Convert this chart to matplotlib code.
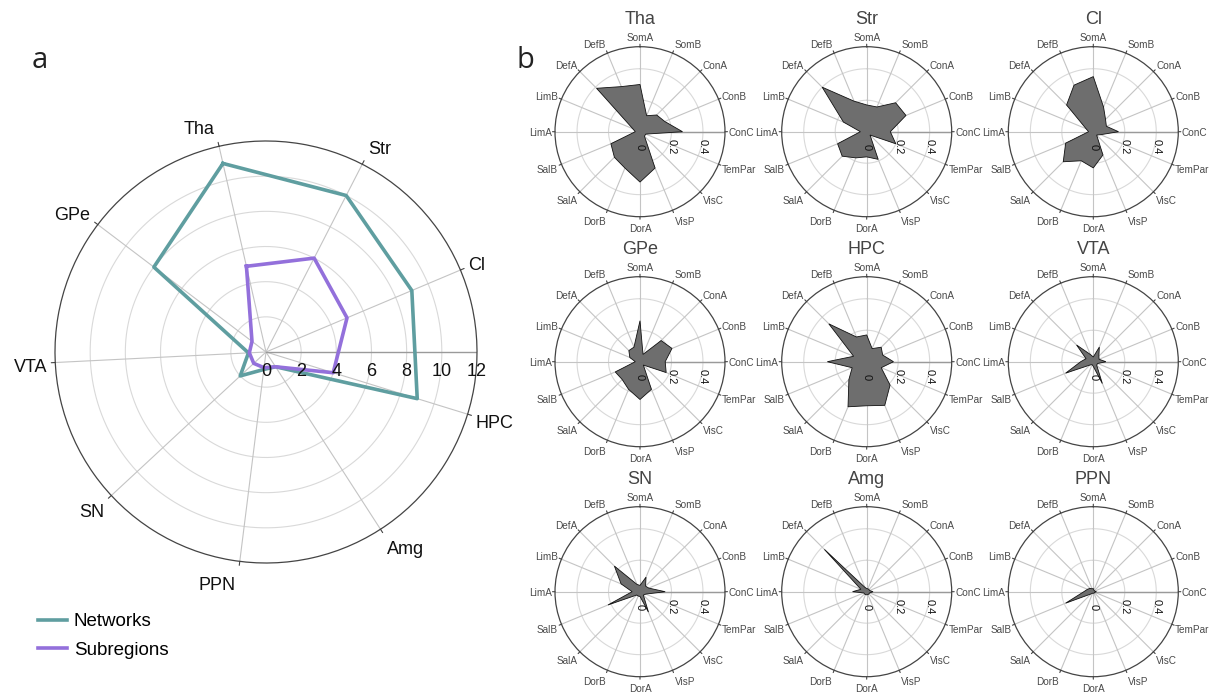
import numpy as np
import matplotlib
matplotlib.use("Agg")
import matplotlib.pyplot as plt
from matplotlib.transforms import offset_copy

plt.rcParams['font.family'] = ['Liberation Sans', 'DejaVu Sans']

# ---------------- data ----------------
regions = ["Tha", "Str", "Cl", "HPC", "Amg", "PPN", "SN", "VTA", "GPe"]
networks_vals = [11, 10, 9, 9, 1, 1, 2, 1, 8]
subregions_vals = [5, 6, 5, 4, 1, 0.9, 0.95, 0.95, 1.0]
big_ticks = [0, 2, 4, 6, 8, 10, 12]

nets = ["SomA", "SomB", "ConA", "ConB", "ConC", "TemPar", "VisC", "VisP",
        "DorA", "DorB", "SalA", "SalB", "LimA", "LimB", "DefA", "DefB"]
small_ticks = [0, 0.2, 0.4]
small_titles = ["Tha", "Str", "Cl", "GPe", "HPC", "VTA", "SN", "Amg", "PPN"]

tha_vals = [0.30, 0.11, 0.15, 0.17, 0.27, 0.04, 0.04, 0.25, 0.32, 0.25, 0.23, 0.20, 0.03, 0.05, 0.39, 0.31]
str_vals = [0.17, 0.17, 0.26, 0.27, 0.15, 0.20, 0.03, 0.19, 0.16, 0.18, 0.22, 0.20, 0.04, 0.16, 0.40, 0.21]
cl_vals = [0.35, 0.17, 0.11, 0.09, 0.16, 0.05, 0.03, 0.16, 0.23, 0.20, 0.27, 0.19, 0.03, 0.05, 0.24, 0.32]
gpe_vals = [0.26, 0.05, 0.19, 0.22, 0.16, 0.18, 0.03, 0.19, 0.24, 0.19, 0.16, 0.17, 0.03, 0.07, 0.10, 0.10]
hpc_vals = [0.17, 0.09, 0.13, 0.11, 0.17, 0.10, 0.21, 0.30, 0.28, 0.31, 0.16, 0.10, 0.25, 0.09, 0.34, 0.17]
vta_vals = [0.03, 0.10, 0.05, 0.04, 0.08, 0.03, 0.03, 0.15, 0.03, 0.02, 0.03, 0.19, 0.08, 0.05, 0.15, 0.05]
sn_vals = [0.04, 0.10, 0.05, 0.06, 0.16, 0.04, 0.03, 0.14, 0.03, 0.03, 0.03, 0.22, 0.05, 0.13, 0.23, 0.05]
amg_vals = [0.02, 0.02, 0.02, 0.02, 0.04, 0.02, 0.02, 0.02, 0.02, 0.02, 0.02, 0.02, 0.09, 0.04, 0.38, 0.03]
ppn_vals = [0.02, 0.01, 0.01, 0.01, 0.02, 0.01, 0.01, 0.01, 0.01, 0.01, 0.02, 0.19, 0.06, 0.04, 0.03, 0.02]
small_data = [tha_vals, str_vals, cl_vals, gpe_vals, hpc_vals, vta_vals, sn_vals, amg_vals, ppn_vals]

# ---------------- figure ----------------
W, H = 1211, 693
fig = plt.figure(figsize=(W / 100, H / 100), dpi=100)

TEAL = "#5F9EA0"
PURPLE = "#9370DB"


def place_polar(cx, cy, R):
    return fig.add_axes([(cx - R) / W, (H - cy - R) / H, 2 * R / W, 2 * R / H],
                        projection='polar')


def setup_polar(ax, labels, offset_deg, rmax, gridvals, ticks, tickfs, labfs,
                labcol, tick_dy, tick_rot, tick_px, gap_px, vscale):
    n = len(labels)
    ax.set_theta_direction(-1)
    ax.set_theta_offset(np.deg2rad(offset_deg))
    ax.set_ylim(0, rmax)
    ax.set_xticks([])
    ax.set_yticks([])
    ax.grid(False)
    ax.spines['polar'].set_color('#444444')
    ax.spines['polar'].set_linewidth(0.9)
    full = np.linspace(0, 2 * np.pi, 361)
    for g in gridvals:
        ax.plot(full, np.full_like(full, g), color='#d9d9d9', lw=0.8, zorder=1)
    thetas = np.arange(n) * 2 * np.pi / n
    for i, t in enumerate(thetas):
        ax.plot([t, t], [0, rmax], color='#c4c4c4', lw=0.8, zorder=1)
        disp = np.deg2rad(offset_deg - np.rad2deg(t))
        c, s = np.cos(disp), np.sin(disp)
        # outward tick mark
        tk = offset_copy(ax.transData, fig=fig, x=c * tick_px, y=s * tick_px,
                         units='dots')
        ax.annotate("", xy=(t, rmax), xycoords=tk, xytext=(t, rmax),
                    textcoords='data',
                    arrowprops=dict(arrowstyle='-', color='#444444', lw=0.8,
                                    shrinkA=0, shrinkB=0),
                    annotation_clip=False)
        if abs(c) < 0.05:
            ha = 'center'
            dx = 0
        elif c > 0:
            ha = 'left'
            dx = gap_px
        else:
            ha = 'right'
            dx = -gap_px
        dy = vscale * (16.5 * s - 3.5)
        tl = offset_copy(ax.transData, fig=fig, x=c * tick_px + dx,
                         y=s * tick_px + dy, units='dots')
        ax.text(t, rmax, labels[i], transform=tl, ha=ha, va='center',
                fontsize=labfs, color=labcol, clip_on=False)
    # radial axis at east
    te = np.deg2rad(offset_deg)
    ax.plot([te, te], [0, rmax], color='#9a9a9a', lw=1.0, zorder=1.5)
    tr = offset_copy(ax.transData, fig=fig, x=0, y=-tick_dy, units='dots')
    for v in ticks:
        ax.text(te, v, f"{v:g}", transform=tr, ha='center',
                va='center', fontsize=tickfs, rotation=tick_rot,
                color='#111111', zorder=5)
    return thetas


# ---------------- panel a ----------------
axA = place_polar(266, 352, 211)
th = setup_polar(axA, regions, 102.86, 12, [2, 4, 6, 8, 10], big_ticks, 13, 13,
                 '#111111', 19, 0, 4, 4, 1.0)
tc = np.append(th, th[0])
axA.plot(tc, networks_vals + networks_vals[:1], color=TEAL, lw=2.6, zorder=4,
         label="Networks")
axA.plot(tc, subregions_vals + subregions_vals[:1], color=PURPLE, lw=2.6, zorder=4,
         label="Subregions")
axA.legend(loc='upper left', bbox_to_anchor=(38 / W, 1 - 613 / H),
           bbox_transform=fig.transFigure, frameon=False, fontsize=13.5,
           handlelength=1.55, handletextpad=0.35, labelspacing=0.62,
           borderpad=0, borderaxespad=0)

# ---------------- panel b ----------------
cxs = [640, 866.7, 1093.3]
cys = [131.7, 361.7, 591.7]
RS = 85
RMAX_S = 0.54
for k, (title, vals) in enumerate(zip(small_titles, small_data)):
    cx = cxs[k % 3]
    cy = cys[k // 3]
    ax = place_polar(cx, cy, RS)
    th = setup_polar(ax, nets, 90, RMAX_S, [0.2, 0.4], small_ticks, 8, 7.2,
                     '#4a4a4a', 15, -90, 2.5, 1, 0.5)
    tc = np.append(th, th[0])
    ax.fill(tc, vals + vals[:1], facecolor='#6e6e6e', edgecolor='#111111',
            lw=0.6, zorder=3)
    fig.text(cx / W, 1 - (cy - 112) / H, title, ha='center', va='center',
             fontsize=13, color='#444444')

fig.text(40 / W, 1 - 60 / H, "a", fontsize=21, color='#222222',
         family=['Open Sans', 'DejaVu Sans'], ha='center', va='center')
fig.text(525 / W, 1 - 60 / H, "b", fontsize=21, color='#222222',
         family=['Open Sans', 'DejaVu Sans'], ha='center', va='center')

fig.savefig("out.png", dpi=100)
